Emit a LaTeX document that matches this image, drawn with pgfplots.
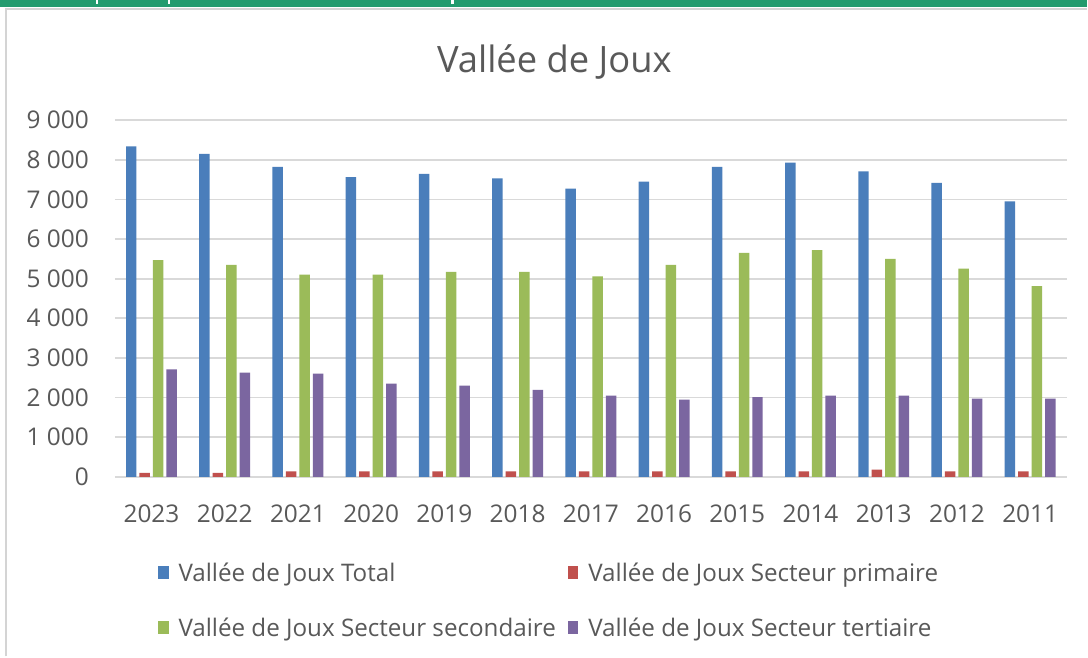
\documentclass[border=0pt]{standalone}
\usepackage{fontspec}
\setmainfont{Open Sans}
\usepackage{pgfplots}
\pgfplotsset{compat=1.18}
\definecolor{cTot}{HTML}{4A7EBB}
\definecolor{cPri}{HTML}{C0504D}
\definecolor{cSec}{HTML}{9BBB59}
\definecolor{cTer}{HTML}{7B66A0}
\definecolor{hdr}{HTML}{239B6E}
\definecolor{bordergray}{HTML}{D4D4D4}
\definecolor{gridgray}{HTML}{D9D9D9}
\definecolor{txt}{HTML}{595959}
\begin{document}
\begin{tikzpicture}
\fill[white] (0bp,0bp) rectangle (1088bp,-657bp);
\fill[hdr] (0bp,0bp) rectangle (1088bp,-7bp);
\fill[white] (96bp,0bp) rectangle (98.5bp,-4bp);
\fill[white] (168bp,0bp) rectangle (170.5bp,-4bp);
\fill[white] (452bp,0bp) rectangle (454.5bp,-4bp);
\draw[bordergray, line width=2.5bp] (6bp,-657bp) -- (6bp,-9bp) -- (1088bp,-9bp);
\node[font=\fontsize{36.5}{40}\selectfont, text=txt] at (555bp,-62bp) {Vallée de Joux};
\begin{axis}[
  at={(115bp,-477.3bp)}, anchor=south west,
  scale only axis, width=953bp, height=357bp,
  ymin=0, ymax=9000, xmin=-0.5, xmax=12.5,
  ybar=3bp, bar width=10.5bp,
  axis line style={draw=none},
  tick style={draw=none},
  ymajorgrids, major grid style={draw=gridgray, line width=1.7bp},
  xtick={0,1,2,3,4,5,6,7,8,9,10,11,12},
  xticklabels={2023,2022,2021,2020,2019,2018,2017,2016,2015,2014,2013,2012,2011},
  ytick={0,1000,2000,3000,4000,5000,6000,7000,8000,9000},
  yticklabels={0,1 000,2 000,3 000,4 000,5 000,6 000,7 000,8 000,9 000},
  every tick label/.append style={font=\fontsize{24.5}{27}\selectfont, text=txt, inner sep=0pt},
  yticklabel style={xshift=-26bp},
  xticklabel style={yshift=-24bp},
  legend columns=2,
  legend cell align=left,
  legend image code/.code={\fill[#1] (0bp,-6.5bp) rectangle (10.5bp,6.5bp);},
  legend style={at={(0.042,-0.23)}, anchor=north west, draw=none, fill=none,
    font=\fontsize{24.3}{28}\selectfont, text=txt, row sep=31bp,
    /tikz/every odd column/.append style={column sep=8bp},
    /tikz/every even column/.append style={column sep=10bp}},
]
\addplot[fill=cTot, draw=none] coordinates {(0,8340) (1,8150) (2,7820) (3,7560) (4,7645) (5,7530) (6,7270) (7,7450) (8,7820) (9,7930) (10,7710) (11,7420) (12,6950)};
\addplot[fill=cPri, draw=none] coordinates {(0,100) (1,100) (2,135) (3,135) (4,135) (5,135) (6,135) (7,135) (8,135) (9,135) (10,177) (11,135) (12,135)};
\addplot[fill=cSec, draw=none] coordinates {(0,5470) (1,5350) (2,5100) (3,5100) (4,5170) (5,5170) (6,5060) (7,5350) (8,5650) (9,5720) (10,5500) (11,5250) (12,4810)};
\addplot[fill=cTer, draw=none] coordinates {(0,2710) (1,2630) (2,2600) (3,2350) (4,2300) (5,2195) (6,2045) (7,1945) (8,2010) (9,2045) (10,2045) (11,1975) (12,1975)};
\legend{Vallée de Joux Total, Vallée de Joux Secteur primaire, Vallée de Joux Secteur secondaire, Vallée de Joux Secteur tertiaire}
\end{axis}
\end{tikzpicture}
\end{document}
